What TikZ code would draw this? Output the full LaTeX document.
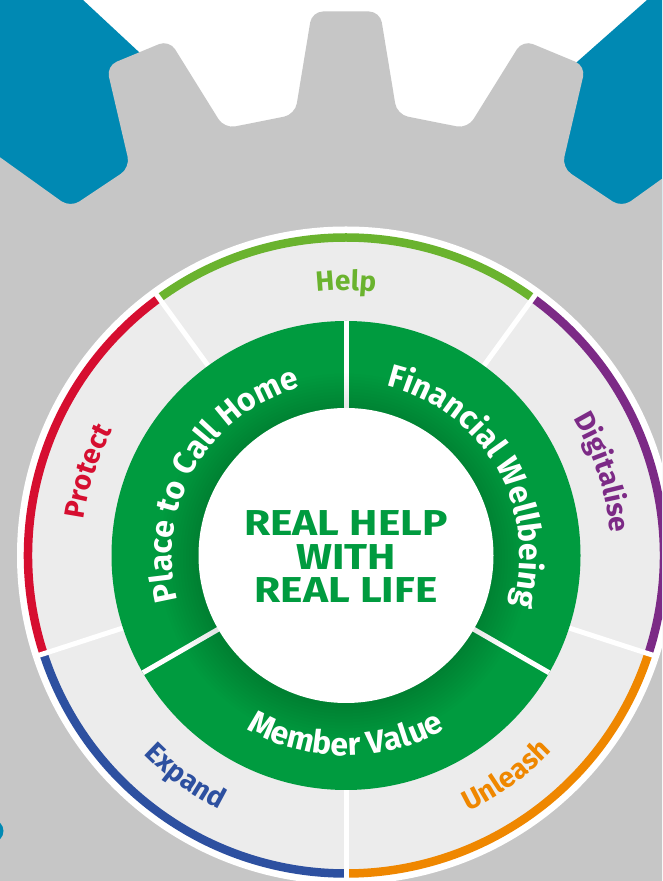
\documentclass[tikz,border=0pt]{standalone}
\usepackage{fontspec}
\setmainfont{Fira Sans}
\usetikzlibrary{calc,decorations.text}

\definecolor{gearGrey}{RGB}{198,198,198}
\definecolor{teethBlue}{RGB}{0,137,179}
\definecolor{paleGrey}{RGB}{236,236,236}
\definecolor{ringGreen}{RGB}{0,155,63}
\definecolor{helpGreen}{RGB}{106,179,46}
\definecolor{protectRed}{RGB}{214,14,48}
\definecolor{digitalPurple}{RGB}{124,42,134}
\definecolor{unleashOrange}{RGB}{239,135,0}
\definecolor{expandBlue}{RGB}{45,80,160}

\newcommand\ringfont{\fontsize{32}{32}\selectfont\bfseries}
\newcommand\lblfont{\fontsize{28}{28}\selectfont\bfseries}

\tikzset{
  centreline/.style={anchor=base, inner sep=0pt, text=ringGreen,
    font=\fontsize{36}{36}\selectfont\bfseries\addfontfeatures{FakeStretch=1.18}},
  divider/.style={white, line width=5pt},
  band/.style={line width=8.5pt},
}

\begin{document}
\begin{tikzpicture}[x=1pt,y=1pt]
\useasboundingbox (0,0) rectangle (662,881);
\clip (0,0) rectangle (662,881);
\fill[white] (0,0) rectangle (662,881);
\coordinate (O) at (346,325.5);

% teeth of the blue gear behind
\fill[teethBlue] (0,881) -- (83,881) -- (155,814) -- (155,621) -- (0,621) -- cycle;
\fill[teethBlue] (647,881) -- (662,881) -- (662,621) -- (560,621) -- (560,804) -- cycle;

% grey gear, 16 teeth
\fill[gearGrey, rounded corners=11pt] ($(O)+(258.75:442.5)$)
  \foreach \k [evaluate=\k as \a using 270+22.5*\k] in {0,...,15} {
    -- ($(O)+(\a:441)+(\a-90:51)$) -- ($(O)+(\a:544)+(\a-90:34)$)
    -- ($(O)+(\a:544)+(\a+90:34)$) -- ($(O)+(\a:441)+(\a+90:51)$)
  } -- cycle;

% blue gear edge at the lower left
\fill[teethBlue] (-8,50) circle (11.5);

% outer ring
\fill[white] (O) circle (329);
\fill[paleGrey] (O) circle (318);
\draw[band, helpGreen]     ($(O)+(54:318)$)  arc[start angle=54,  end angle=126, radius=318];
\draw[band, protectRed]    ($(O)+(126:318)$) arc[start angle=126, end angle=198, radius=318];
\draw[band, expandBlue]    ($(O)+(198:318)$) arc[start angle=198, end angle=270, radius=318];
\draw[band, unleashOrange] ($(O)+(270:318)$) arc[start angle=270, end angle=342, radius=318];
\draw[band, digitalPurple] ($(O)+(342:318)$) arc[start angle=342, end angle=414, radius=318];
\foreach \a in {54,126,198,270,342}
  \draw[divider] ($(O)+(\a:230)$) -- ($(O)+(\a:327)$);

% green ring
\fill[ringGreen] (O) circle (234.5);
\foreach \a in {90,210,330}
  \draw[divider] ($(O)+(\a:140)$) -- ($(O)+(\a:234.5)$);
% soft shadow around the centre disc
\foreach \r in {149,152,...,185}
  \fill[black, opacity=0.006] ($(O)+(-2,-3)$) circle (\r);
\fill[white] (O) circle (147.5);

% outer labels
\path[decorate, decoration={text along path, text align=center, text color=helpGreen,
  text={|\lblfont|Help}}] ($(O)+(126:265)$) arc[start angle=126, end angle=54, radius=265];
\path[decorate, decoration={text along path, text align=center, text color=protectRed,
  text={|\lblfont|Protect}}] ($(O)+(198:265)$) arc[start angle=198, end angle=126, radius=265];
\path[decorate, decoration={text along path, text align=center, text color=digitalPurple,
  text={|\lblfont|Digitalise}}] ($(O)+(54:265)$) arc[start angle=54, end angle=-18, radius=265];
\path[decorate, decoration={text along path, text align=center, text color=unleashOrange,
  text={|\lblfont|Unleash}}] ($(O)+(270:284)$) arc[start angle=270, end angle=342, radius=284];
\path[decorate, decoration={text along path, text align=center, text color=expandBlue,
  text={|\lblfont|Expand}}] ($(O)+(198:284)$) arc[start angle=198, end angle=270, radius=284];

% green ring labels
\path[decorate, decoration={text along path, text align=center, text color=white,
  text={|\ringfont|Place to Call Home}}] ($(O)+(210:174)$) arc[start angle=210, end angle=90, radius=174];
\path[decorate, decoration={text along path, text align=center, text color=white,
  text={|\ringfont|Financial Wellbeing}}] ($(O)+(90:174)$) arc[start angle=90, end angle=-30, radius=174];
\path[decorate, decoration={text along path, text align=center, text color=white,
  text={|\ringfont|Member Value}}] ($(O)+(210:200)$) arc[start angle=210, end angle=330, radius=200];

% centre text
\node[centreline] (line1) at (346,345.5) {REAL HELP};
\node[centreline] (line2) at (346,311) {WITH};
\node[centreline] (line3) at (346,278) {REAL LIFE};
\end{tikzpicture}
\end{document}
